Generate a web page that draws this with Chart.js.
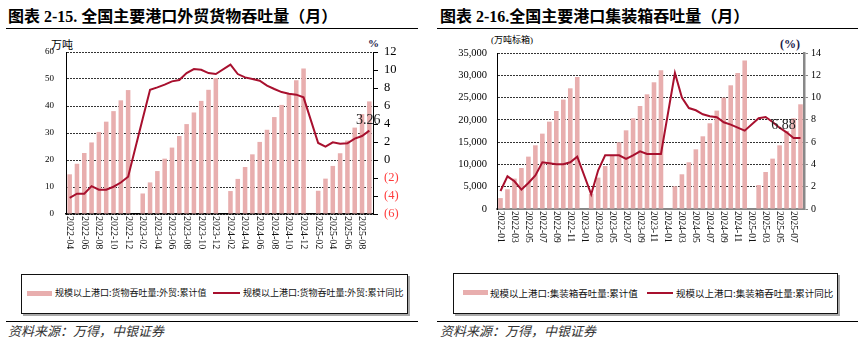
<!DOCTYPE html>
<html>
<head>
<meta charset="utf-8">
<script src="https://cdn.jsdelivr.net/npm/chart.js@4.4.0/dist/chart.umd.min.js"></script>
<style>
  body { margin: 0; background: #fff; width: 863px; height: 346px; position: relative; overflow: hidden;
         font-family: 'Liberation Serif', 'Noto Sans CJK SC', serif; color: #000; }
  .abs { position: absolute; white-space: nowrap; }
  .title { font-size: 16px; font-weight: bold; line-height: 20px; top: 7px; }
  .rule { position: absolute; height: 0; border-top: 1.5px solid #000; }
  .source { font-size: 13px; font-style: italic; line-height: 16px; top: 324px; color: #333; }
  .legbox { position: absolute; border: 1px solid #111; box-shadow: 2px 2px 0 #aaa; }
  .swatch { position: absolute; height: 5px; background: #E8AEAE; }
  .legline { position: absolute; height: 2px; background: #A8102E; }
  .legtext { line-height: 14px; font-family: 'Noto Sans CJK SC', sans-serif; color: #111; }
  canvas { position: absolute; }
</style>
</head>
<body>
<div class="abs title" style="left:8px;">图表 2-15. 全国主要港口外贸货物吞吐量（月）</div>
<div class="abs title" style="left:440px;">图表 2-16.全国主要港口集装箱吞吐量（月）</div>
<div class="rule" style="left:6px; width:412px; top:28px;"></div>
<div class="rule" style="left:437px; width:421px; top:28px;"></div>

<div class="abs" style="left:51px; top:37px; font-size:11px; line-height:14px; font-family:'Noto Sans CJK SC';">万吨</div>
<div class="abs" style="left:368px; top:36px; font-size:11px; line-height:14px; font-weight:bold; color:#1a1a4a;">%</div>
<div class="abs" style="left:491px; top:34px; font-size:9px; line-height:13px;">(万吨标箱)</div>
<div class="abs" style="left:780px; top:37px; font-size:12px; line-height:14px; font-weight:bold; color:#1a1a4a;">(%)</div>

<canvas id="cargoChart" width="430" height="240" style="left:0; top:30px;"></canvas>
<canvas id="boxChart" width="433" height="240" style="left:430px; top:30px;"></canvas>

<div class="legbox" style="left:21px; top:274px; width:385px; height:38px;"></div>
<div class="swatch" style="left:27px; top:291px; width:25px;"></div>
<div class="abs legtext" style="left:55px; top:286px; font-size:9px;">规模以上港口:货物吞吐量:外贸:累计值</div>
<div class="legline" style="left:213px; top:292px; width:27px;"></div>
<div class="abs legtext" style="left:243px; top:286px; font-size:9px;">规模以上港口:货物吞吐量:外贸:累计同比</div>

<div class="legbox" style="left:453px; top:273px; width:383px; height:39px;"></div>
<div class="swatch" style="left:463px; top:290px; width:25px;"></div>
<div class="abs legtext" style="left:490px; top:286px; font-size:9.5px;">规模以上港口:集装箱吞吐量:累计值</div>
<div class="legline" style="left:647px; top:292px; width:26px;"></div>
<div class="abs legtext" style="left:676px; top:286px; font-size:9.5px;">规模以上港口:集装箱吞吐量:累计同比</div>

<div class="rule" style="left:6px; width:412px; top:321px;"></div>
<div class="rule" style="left:437px; width:421px; top:321px;"></div>
<div class="abs source" style="left:8px;">资料来源：万得，中银证券</div>
<div class="abs source" style="left:440px;">资料来源：万得，中银证券</div>

<script>
// 外贸货物吞吐量 2022-04 .. 2025-09
const cargoMonths = [
  '2022-04','2022-05','2022-06','2022-07','2022-08','2022-09','2022-10','2022-11','2022-12',
  '2023-01','2023-02','2023-03','2023-04','2023-05','2023-06','2023-07','2023-08','2023-09','2023-10','2023-11','2023-12',
  '2024-01','2024-02','2024-03','2024-04','2024-05','2024-06','2024-07','2024-08','2024-09','2024-10','2024-11','2024-12',
  '2025-01','2025-02','2025-03','2025-04','2025-05','2025-06','2025-07','2025-08','2025-09'
];
const cargoTotal = [
  14.7, 18.6, 22.6, 26.5, 30.4, 34.2, 38.1, 42.1, 45.9,
  null, 7.6, 11.7, 15.9, 20.5, 24.6, 28.9, 33.3, 37.6, 41.9, 46.0, 50.4,
  null, 8.5, 13.0, 17.4, 22.1, 26.7, 31.2, 35.9, 40.4, 44.7, 49.5, 53.9,
  null, 8.6, 13.1, 17.8, 22.5, 27.2, 32.0, 37.0, 41.7
];
const cargoYoy = [
  -4.2, -3.75, -3.75, -2.9, -3.3, -3.3, -2.97, -2.5, -1.86,
  null, 4.6, 7.8, 8.07, 8.37, 8.74, 8.89, 9.66, 10.1, 10.03, 9.66, 9.55,
  null, 10.59, 9.55, 9.18, 9.0, 8.81, 8.26, 7.89, 7.55, 7.37, 7.26, 6.96,
  null, 1.89, 1.48, 1.96, 1.81, 1.85, 2.37, 2.66, 3.26
];

// 集装箱吞吐量 2022-01 .. 2025-08
const boxMonths = [
  '2022-01','2022-02','2022-03','2022-04','2022-05','2022-06','2022-07','2022-08','2022-09','2022-10','2022-11','2022-12',
  '2023-01','2023-02','2023-03','2023-04','2023-05','2023-06','2023-07','2023-08','2023-09','2023-10','2023-11','2023-12',
  '2024-01','2024-02','2024-03','2024-04','2024-05','2024-06','2024-07','2024-08','2024-09','2024-10','2024-11','2024-12',
  '2025-01','2025-02','2025-03','2025-04','2025-05','2025-06','2025-07','2025-08'
];
const boxTotal = [
  2450, 4420, 6820, 9200, 11750, 14290, 16910, 19600, 21990, 24540, 27080, 29620,
  null, 3400, 7040, 9650, 12120, 14960, 17650, 20350, 23110, 25730, 28430, 31120,
  null, 5090, 7790, 10480, 13390, 16310, 19230, 22070, 24990, 27750, 30510, 33290,
  null, 5390, 8300, 11300, 14290, 17500, 20350, 23490
];
const boxYoy = [
  1.62, 2.93, 2.49, 1.74, 2.33, 3.02, 4.19, 4.1, 4.01, 4.01, 4.19, 4.7,
  null, 1.32, 3.47, 4.82, 4.82, 4.82, 4.49, 4.82, 5.18, 4.94, 4.94, 4.94,
  null, 12.2, 10.0, 9.06, 8.86, 8.5, 8.32, 8.23, 7.78, 7.57, 7.3, 7.03,
  null, 8.14, 8.26, 7.81, 7.3, 6.88, 6.37, 6.37
];

const barPink = '#E8AEAE';
const lineRed = '#A8102E';

Chart.defaults.font.family = "'Liberation Serif', 'Times New Roman', serif";
Chart.defaults.color = '#000';

// x labels read top-to-bottom, every other month
function monthLabels(fontSize) {
  return {
    id: 'monthLabels',
    afterDraw(chart) {
      const x = chart.scales.x;
      const ctx = chart.ctx;
      ctx.save();
      ctx.font = fontSize + "px 'Liberation Serif'";
      ctx.fillStyle = '#111';
      ctx.textAlign = 'left';
      ctx.textBaseline = 'middle';
      chart.data.labels.forEach((lab, i) => {
        if (i % 2) return;
        ctx.save();
        ctx.translate(x.getPixelForValue(i), x.top + 2);
        ctx.rotate(Math.PI / 2);
        ctx.fillText(lab, 0, 0);
        ctx.restore();
      });
      ctx.restore();
    }
  };
}

function pointLabel(idx, text, dx, dy) {
  return {
    id: 'pointLabel',
    afterDatasetsDraw(chart) {
      const pt = chart.getDatasetMeta(1).data[idx];
      const ctx = chart.ctx;
      ctx.save();
      ctx.font = "14px 'Liberation Serif'";
      ctx.fillStyle = '#222';
      ctx.textAlign = 'center';
      ctx.textBaseline = 'middle';
      ctx.fillText(text, pt.x + dx, pt.y - dy);
      ctx.restore();
    }
  };
}

new Chart(document.getElementById('cargoChart'), {
  type: 'bar',
  data: {
    labels: cargoMonths,
    datasets: [{
      label: '规模以上港口:货物吞吐量:外贸:累计值',
      data: cargoTotal,
      backgroundColor: barPink,
      barPercentage: 0.62,
      categoryPercentage: 1,
      yAxisID: 'y',
      order: 1
    }, {
      type: 'line',
      label: '规模以上港口:货物吞吐量:外贸:累计同比',
      data: cargoYoy,
      borderColor: lineRed,
      borderWidth: 2,
      pointRadius: 0,
      spanGaps: true,
      tension: 0,
      yAxisID: 'y1',
      order: 0
    }]
  },
  options: {
    responsive: false,
    animation: false,
    layout: { padding: { top: 22, left: 0, right: 0, bottom: 0 } },
    plugins: { legend: { display: false }, tooltip: { enabled: false } },
    scales: {
      x: {
        grid: { display: false },
        border: { display: true, color: '#000', width: 1.5 },
        ticks: { display: false },
        afterFit: s => { s.height = 56; }
      },
      y: {
        position: 'left',
        min: 0, max: 60,
        ticks: { stepSize: 10, font: { size: 9 }, padding: 12, autoSkip: false },
        grid: { color: '#333', lineWidth: 1, drawTicks: false },
        border: { color: '#000', width: 1, dash: [2, 1] },
        afterFit: s => { s.width = 66; }
      },
      y1: {
        position: 'right',
        min: -6, max: 12,
        ticks: {
          stepSize: 2, font: { size: 12.5 }, padding: 6, autoSkip: false,
          color: c => c.tick.value < 0 ? '#FF3B3B' : '#000',
          callback: v => v < 0 ? '(' + (-v) + ')' : v
        },
        grid: { drawOnChartArea: false, drawTicks: true, tickLength: 5, color: '#000' },
        border: { color: '#000', width: 1 },
        afterFit: s => { s.width = 57; }
      }
    }
  },
  plugins: [monthLabels(10), pointLabel(41, '3.26', -1, 10)]
});

new Chart(document.getElementById('boxChart'), {
  type: 'bar',
  data: {
    labels: boxMonths,
    datasets: [{
      label: '规模以上港口:集装箱吞吐量:累计值',
      data: boxTotal,
      backgroundColor: barPink,
      barPercentage: 0.66,
      categoryPercentage: 1,
      yAxisID: 'y',
      order: 1
    }, {
      type: 'line',
      label: '规模以上港口:集装箱吞吐量:累计同比',
      data: boxYoy,
      borderColor: lineRed,
      borderWidth: 2,
      pointRadius: 0,
      spanGaps: true,
      tension: 0,
      yAxisID: 'y1',
      order: 0
    }]
  },
  options: {
    responsive: false,
    animation: false,
    layout: { padding: { top: 23, left: 0, right: 0, bottom: 0 } },
    plugins: { legend: { display: false }, tooltip: { enabled: false } },
    scales: {
      x: {
        grid: { display: false },
        border: { display: true, color: '#888', width: 2 },
        ticks: { display: false },
        afterFit: s => { s.height = 61; }
      },
      y: {
        position: 'left',
        min: 0, max: 35000,
        ticks: { stepSize: 5000, font: { size: 10.5 }, padding: 10, autoSkip: false,
                 callback: v => v.toLocaleString('en-US') },
        grid: { color: '#333', lineWidth: 1, drawTicks: false },
        border: { color: '#000', width: 1, dash: [2, 1] },
        afterFit: s => { s.width = 67; }
      },
      y1: {
        position: 'right',
        min: 0, max: 14,
        ticks: { stepSize: 2, font: { size: 10 }, padding: 3, autoSkip: false },
        grid: { drawOnChartArea: false, drawTicks: true, tickLength: 4, color: '#888' },
        border: { color: '#888', width: 2.5 },
        afterFit: s => { s.width = 59; }
      }
    }
  },
  plugins: [monthLabels(9.5), pointLabel(41, '6.88', -3, 7)]
});
</script>
</body>
</html>
